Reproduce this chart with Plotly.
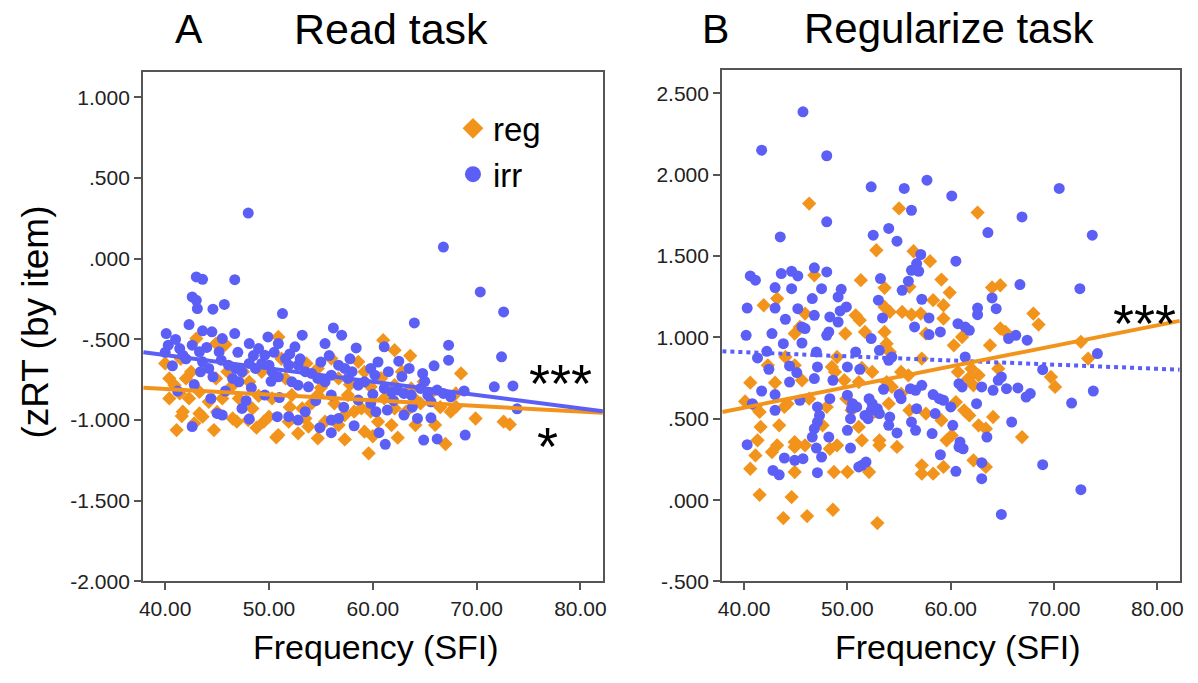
import plotly.graph_objects as go

# ---------------- data ----------------
# Panel A (Read task)
a_irr_x = [48.0, 66.8, 70.35, 72.6, 64.0, 43.0, 43.6, 46.7, 42.6, 43.0, 43.1, 44.6, 45.7, 51.3, 42.3, 40.1,
           43.6, 44.5, 46.7, 45.5, 48.1, 49.9, 50.9, 53.2, 56.2, 57.0, 55.4, 52.5, 58.4, 61.1, 67.3, 67.3,
           72.4, 62.5, 65.9, 64.8, 71.7, 73.5, 68.8, 66.8, 65.6, 73.9, 65.6, 64.3, 68.9, 66.2, 64.9, 61.2,
           60.6, 58.2, 56.0, 54.9, 48.1, 42.6, 45.0, 45.5, 47.4, 50.8, 51.9, 53.5, 60.3, 61.4, 63.0, 56.0,
           40.3, 40.7, 41.4, 41.7, 42.6, 43.3, 43.6, 44.2, 43.4, 44.6, 45.2, 45.4, 46.1, 46.8, 47.4, 46.5,
           47.1, 48.1, 48.7, 49.3, 50.0, 49.0, 49.6, 50.3, 50.9, 51.6, 51.9, 52.8, 53.5, 54.1, 52.2, 52.8,
           53.8, 54.7, 55.4, 56.0, 56.7, 57.3, 57.6, 58.6, 59.2, 59.8, 60.2, 61.1, 61.8, 62.4, 63.0, 63.7,
           64.6, 65.3, 66.2, 67.5, 44.4, 49.6, 56.0, 58.6, 59.8, 56.7, 52.8,
           40.0, 41.0, 42.0, 44.0, 47.0, 48.5, 50.5, 52.0, 53.0, 55.0, 55.8, 57.8, 58.0, 60.5, 61.5, 62.8,
           63.5, 65.0, 41.2, 42.8, 45.8, 48.3, 51.0, 54.5, 57.2, 60.0, 62.0, 63.8, 50.2, 47.8]
a_irr_y = [0.283, 0.072, -0.206, -0.33, -0.398, -0.113, -0.128, -0.13, -0.237, -0.258, -0.309, -0.313, -0.283, -0.34, -0.408, -0.464,
           -0.447, -0.453, -0.464, -0.495, -0.526, -0.485, -0.526, -0.474, -0.429, -0.474, -0.526, -0.546, -0.553, -0.546, -0.536, -0.629,
           -0.608, -0.635, -0.664, -0.711, -0.794, -0.788, -0.819, -0.835, -0.887, -0.93, -0.986, -0.99, -1.093, -1.117, -1.124, -1.15,
           -1.078, -1.035, -1.078, -1.047, -0.994, -1.04, -0.959, -0.969, -0.928, -0.979, -0.979, -0.948, -0.948, -0.938, -0.969, -1.0,
           -0.536, -0.664, -0.557, -0.598, -0.536, -0.577, -0.639, -0.68, -0.701, -0.732, -0.577, -0.629, -0.66, -0.68, -0.70, -0.742,
           -0.763, -0.649, -0.68, -0.649, -0.66, -0.557, -0.598, -0.70, -0.732, -0.619, -0.66, -0.66, -0.70, -0.711, -0.763, -0.784,
           -0.794, -0.742, -0.763, -0.722, -0.66, -0.68, -0.742, -0.784, -0.763, -0.68, -0.722, -0.804, -0.825, -0.814, -0.835, -0.845,
           -0.804, -0.845, -0.814, -0.856, -0.866, -0.845, -0.845, -0.876, -0.897, -0.99, -1.0,
           -0.58, -0.50, -0.62, -0.55, -0.58, -0.60, -0.58, -0.59, -0.62, -0.64, -0.60, -0.62, -0.70, -0.64, -0.70, -0.73,
           -0.68, -0.76, -0.82, -0.78, -0.82, -0.80, -0.86, -0.88, -0.92, -0.84, -0.88, -0.92, -0.76, -0.88]

a_reg_x = [61.0, 62.1, 63.6, 68.5, 58.6, 69.9, 72.6, 73.2, 67.0, 59.6, 41.1, 41.6, 44.7, 48.8, 50.7, 52.8,
           54.7, 57.3, 62.4, 64.1, 68.0, 67.5, 40.0, 40.4, 40.9, 41.4, 42.5, 42.0, 43.0, 44.9, 45.8, 43.3,
           43.6, 46.5, 46.9, 49.5, 50.0, 50.9, 51.9, 53.5, 54.1, 55.4, 56.7, 58.2, 59.2, 60.5, 61.8, 63.2,
           64.6, 68.0, 50.9, 53.6, 54.7, 56.0, 59.2, 59.8, 56.7, 51.6, 49.3, 48.1, 46.5, 44.9, 43.3, 42.3,
           44.2, 45.5, 47.1, 48.4, 50.3, 52.2, 53.2, 54.7, 56.3, 57.6, 58.9, 61.1, 62.1, 63.7, 64.9, 64.0,
           62.1, 59.8, 57.3, 41.7, 40.4,
           45.0, 47.5, 52.0, 55.0, 57.8, 60.8, 62.8, 65.5, 66.5, 42.8, 48.0, 53.8, 60.0, 66.0, 51.2, 49.0,
           46.0, 41.5]
a_reg_y = [-0.505, -0.567, -0.602, -0.711, -0.639, -0.99, -1.01, -1.027, -1.148, -1.206, -1.062, -0.975, -1.062, -1.047, -1.107, -1.082,
           -1.113, -1.12, -1.109, -1.031, -0.918, -0.948, -0.649, -0.742, -0.784, -0.835, -0.701, -0.742, -0.495, -0.526, -0.532, -0.959,
           -0.979, -0.99, -1.01, -1.01, -0.979, -1.093, -1.01, -0.99, -0.897, -1.01, -1.031, -0.948, -1.072, -1.01, -1.031, -0.948,
           -0.897, -0.835, -0.485, -0.649, -0.68, -0.619, -0.701, -0.794, -0.742, -0.742, -0.701, -0.763, -0.784, -0.742, -0.825, -0.866,
           -0.887, -0.866, -0.866, -0.928, -0.866, -0.845, -0.928, -0.845, -0.897, -0.845, -0.928, -0.866, -0.784, -0.804, -0.763, -0.866,
           -0.928, -0.948, -0.969, -0.948, -0.866,
           -0.95, -0.70, -0.92, -0.80, -0.78, -0.74, -0.70, -0.84, -0.92, -1.02, -1.00, -1.04, -1.10, -1.03, -0.62, -0.85,
           -0.70, -0.62]

# Panel B (Regularize task)
b_irr_x = [45.7, 41.7, 48.0, 52.3, 55.5, 57.7, 60.1, 70.5, 56.2, 66.9, 48.0, 43.5, 52.5, 54.0, 54.8, 63.6,
           73.7, 60.5, 57.1, 56.7, 56.2, 56.9, 46.8, 48.0, 40.6, 41.1, 43.6, 44.6, 45.2, 53.2, 55.9, 55.3,
           66.7, 72.5, 43.0, 44.6, 47.5, 46.6, 49.4, 49.1, 49.9, 49.3, 53.0, 57.2, 64.0, 64.4, 62.6, 62.6,
           40.3, 43.0, 45.2, 46.8, 48.3, 44.0, 53.4, 57.9, 60.7, 61.4, 61.8, 49.1, 56.5, 45.6, 45.9, 48.2,
           48.0, 42.7, 59.0, 57.9, 40.2, 52.3, 65.6, 66.3, 67.4, 43.8, 45.6, 74.2, 47.0, 50.8, 53.1, 54.3,
           54.0, 61.4, 41.3, 42.2, 42.4, 44.4, 45.1, 51.2, 50.0, 47.1, 68.9, 46.8, 48.6, 44.4, 56.6, 57.2,
           56.1, 60.8, 61.1, 63.0, 64.1, 64.6, 64.9, 65.4, 66.5, 41.7, 43.0, 53.5, 55.0, 52.1, 52.4, 52.3,
           50.0, 50.5, 50.4, 58.3, 58.9, 59.3, 60.0, 67.7, 67.3, 62.5, 55.2, 48.3, 45.4, 40.8, 43.0, 47.1,
           47.3, 47.1, 50.9, 51.7, 52.0, 52.9, 53.1, 54.1, 56.7, 58.5, 50.3, 46.8, 46.6, 48.2, 50.0, 54.0,
           54.8, 56.2, 56.6, 58.2, 60.2, 65.9, 63.5, 60.9, 61.2, 60.8, 40.3, 47.0, 47.5, 50.3, 59.0, 43.9,
           44.9, 45.7, 51.4, 51.8, 51.1, 63.0, 68.9, 42.8, 43.4, 47.1, 60.5, 63.0, 72.6, 64.9, 71.7, 73.8]
b_irr_y = [2.387, 2.151, 2.117, 1.926, 1.916, 1.967, 1.870, 1.916, 1.782, 1.741, 1.711, 1.618, 1.629, 1.670, 1.592, 1.645,
           1.629, 1.469, 1.510, 1.454, 1.413, 1.407, 1.428, 1.403, 1.378, 1.352, 1.393, 1.407, 1.378, 1.362, 1.346, 1.290,
           1.325, 1.300, 1.307, 1.300, 1.300, 1.239, 1.296, 1.249, 1.188, 1.163, 1.229, 1.235, 1.243, 1.177, 1.181, 1.140,
           1.181, 1.181, 1.177, 1.136, 1.126, 1.112, 1.120, 1.120, 1.085, 1.065, 1.044, 1.095, 1.065, 1.065, 1.055, 1.034,
           1.013, 1.024, 1.034, 1.018, 1.013, 0.993, 0.993, 1.013, 0.983, 0.962, 0.966, 0.901, 0.911, 0.911, 0.921, 0.880,
           0.860, 0.880, 0.874, 0.915, 0.804, 0.825, 0.784, 0.804, 0.819, 0.819, 0.802, 0.747, 0.737, 0.726, 0.675, 0.706,
           0.685, 0.716, 0.696, 0.696, 0.675, 0.737, 0.757, 0.685, 0.690, 0.671, 0.649, 0.681, 0.649, 0.624, 0.593, 0.552,
           0.645, 0.593, 0.563, 0.649, 0.624, 0.614, 0.573, 0.655, 0.634, 0.593, 0.624, 0.624, 0.614, 0.593, 0.552, 0.573,
           0.521, 0.480, 0.573, 0.521, 0.501, 0.562, 0.532, 0.511, 0.562, 0.532, 0.501, 0.439, 0.388, 0.388, 0.429, 0.460,
           0.413, 0.480, 0.429, 0.409, 0.460, 0.480, 0.388, 0.357, 0.316, 0.327, 0.341, 0.320, 0.265, 0.320, 0.279, 0.259,
           0.245, 0.255, 0.214, 0.234, 0.204, 0.230, 0.218, 0.183, 0.156, 0.169, 0.177, 0.132, 0.064, -0.088, 0.597, 0.671]

b_reg_x = [46.3, 55.0, 62.6, 52.8, 56.4, 58.0, 51.3, 46.8, 53.6, 59.1, 64.0, 64.8, 56.0, 59.9, 43.2, 41.9,
           45.9, 50.8, 51.2, 53.6, 54.1, 55.3, 56.2, 57.1, 58.3, 59.3, 59.3, 68.0, 68.5, 44.9, 45.4, 49.8,
           51.7, 53.6, 57.6, 61.1, 60.3, 63.8, 64.8, 65.3, 72.6, 73.3, 69.7, 70.1, 53.8, 54.1, 57.2, 49.0,
           44.0, 44.9, 42.3, 48.5, 48.8, 51.4, 52.4, 55.2, 55.9, 60.7, 62.0, 62.7, 64.6, 40.6, 43.0, 45.6,
           49.7, 51.1, 53.8, 54.3, 61.7, 62.2, 40.1, 41.1, 41.5, 41.6, 43.4, 43.9, 44.2, 46.3, 48.0, 49.9,
           50.4, 51.1, 52.6, 54.0, 55.2, 56.0, 57.6, 59.1, 60.5, 61.3, 61.8, 62.7, 63.4, 64.1, 66.9, 41.3,
           41.1, 43.2, 42.7, 44.9, 44.9, 45.9, 47.6, 48.3, 49.0, 51.4, 53.1, 53.1, 54.8, 59.6, 60.1, 50.0,
           48.7, 52.1, 44.9, 40.6, 57.2, 58.3, 59.3, 57.2, 62.2, 63.4, 41.5, 44.6, 43.8, 46.1, 48.6, 52.9]
b_reg_y = [1.823, 1.793, 1.768, 1.536, 1.530, 1.469, 1.352, 1.382, 1.305, 1.356, 1.307, 1.321, 1.311, 1.276, 1.239, 1.198,
           1.147, 1.136, 1.106, 1.188, 1.157, 1.157, 1.140, 1.147, 1.229, 1.198, 1.116, 1.147, 1.079, 1.024, 1.065, 1.024,
           1.034, 1.034, 1.024, 1.003, 0.952, 0.952, 1.055, 1.034, 0.973, 0.870, 0.757, 0.696, 0.962, 0.911, 0.870, 0.880,
           0.880, 0.829, 0.829, 0.819, 0.788, 0.813, 0.788, 0.788, 0.767, 0.788, 0.808, 0.767, 0.808, 0.722, 0.722, 0.737,
           0.737, 0.726, 0.726, 0.696, 0.747, 0.706, 0.607, 0.573, 0.542, 0.450, 0.460, 0.573, 0.593, 0.624, 0.573, 0.624,
           0.552, 0.450, 0.542, 0.593, 0.655, 0.552, 0.532, 0.491, 0.603, 0.552, 0.521, 0.460, 0.439, 0.511, 0.388, 0.368,
           0.275, 0.337, 0.296, 0.357, 0.327, 0.337, 0.460, 0.316, 0.337, 0.368, 0.368, 0.337, 0.327, 0.368, 0.398, 0.173,
           0.173, 0.173, 0.173, 0.193, 0.214, 0.163, 0.204, 0.163, 0.245, 0.204, 0.033, 0.019, -0.110, -0.098, -0.059, -0.141]

# fit lines (end values)
fit_x = [37.9, 82.15]
a_irr_fit = [-0.58, -0.945]
a_reg_fit = [-0.80, -0.955]
b_reg_fit = [0.542, 1.102]
b_irr_fit = [0.915, 0.802]

a_yticks = [1.0, 0.5, 0.0, -0.5, -1.0, -1.5, -2.0]
a_yticklabels = ["1.000", ".500", ".000", "-.500", "-1.000", "-1.500", "-2.000"]
b_yticks = [2.5, 2.0, 1.5, 1.0, 0.5, 0.0, -0.5]
b_yticklabels = ["2.500", "2.000", "1.500", "1.000", ".500", ".000", "-.500"]
xticks = [40, 50, 60, 70, 80]
xticklabels = ["40.00", "50.00", "60.00", "70.00", "80.00"]

ORANGE = "#F2941C"
BLUE = "#5C5FF6"
FONT = "Liberation Sans, Arial, sans-serif"
W, H = 1198, 683

fig = go.Figure()

def px_x(p):
    return p / W

def px_y(p):
    return 1 - p / H

# markers
fig.add_trace(go.Scatter(x=a_reg_x, y=a_reg_y, mode="markers", xaxis="x", yaxis="y",
                         marker=dict(symbol="diamond", size=11, color=ORANGE), showlegend=False))
fig.add_trace(go.Scatter(x=a_irr_x, y=a_irr_y, mode="markers", xaxis="x", yaxis="y",
                         marker=dict(symbol="circle", size=11, color=BLUE), showlegend=False))
fig.add_trace(go.Scatter(x=b_reg_x, y=b_reg_y, mode="markers", xaxis="x2", yaxis="y2",
                         marker=dict(symbol="diamond", size=11, color=ORANGE), showlegend=False))
fig.add_trace(go.Scatter(x=b_irr_x, y=b_irr_y, mode="markers", xaxis="x2", yaxis="y2",
                         marker=dict(symbol="circle", size=11, color=BLUE), showlegend=False))
# fit lines
fig.add_trace(go.Scatter(x=fit_x, y=a_reg_fit, mode="lines", xaxis="x", yaxis="y",
                         line=dict(color=ORANGE, width=4), showlegend=False))
fig.add_trace(go.Scatter(x=fit_x, y=a_irr_fit, mode="lines", xaxis="x", yaxis="y",
                         line=dict(color=BLUE, width=4), showlegend=False))
fig.add_trace(go.Scatter(x=fit_x, y=b_irr_fit, mode="lines", xaxis="x2", yaxis="y2",
                         line=dict(color=BLUE, width=4, dash="dot"), showlegend=False))
fig.add_trace(go.Scatter(x=fit_x, y=b_reg_fit, mode="lines", xaxis="x2", yaxis="y2",
                         line=dict(color=ORANGE, width=4), showlegend=False))
# legend entries
fig.add_trace(go.Scatter(x=[None], y=[None], mode="markers", name="reg", xaxis="x", yaxis="y",
                         marker=dict(symbol="diamond", size=22, color=ORANGE)))
fig.add_trace(go.Scatter(x=[None], y=[None], mode="markers", name="irr", xaxis="x", yaxis="y",
                         marker=dict(symbol="circle", size=22, color=BLUE)))

axis_common = dict(showgrid=False, zeroline=False, showline=True, mirror=True,
                   linecolor="#555555", linewidth=2, ticks="outside", ticklen=7,
                   tickwidth=2, tickcolor="#555555",
                   tickfont=dict(family=FONT, size=21, color="#222222"))

fig.update_layout(
    width=W, height=H,
    margin=dict(l=0, r=0, t=0, b=0),
    paper_bgcolor="white", plot_bgcolor="white",
    xaxis=dict(domain=[px_x(140), px_x(603)], range=[37.87, 82.17], anchor="y",
               tickvals=xticks, ticktext=xticklabels, **axis_common),
    yaxis=dict(domain=[px_y(591), px_y(73)], range=[-2.0, 1.158], anchor="x",
               tickvals=a_yticks, ticktext=a_yticklabels, **axis_common),
    xaxis2=dict(domain=[px_x(723), px_x(1184)], range=[37.88, 82.2], anchor="y2",
                tickvals=xticks, ticktext=xticklabels, **axis_common),
    yaxis2=dict(domain=[px_y(591), px_y(71)], range=[-0.5, 2.645], anchor="x2",
                tickvals=b_yticks, ticktext=b_yticklabels, **axis_common),
    legend=dict(x=px_x(452), y=px_y(102), xanchor="left", yanchor="top",
                font=dict(family=FONT, size=33, color="black"),
                bgcolor="rgba(0,0,0,0)", itemsizing="trace", tracegroupgap=0),
    showlegend=True,
)

annots = [
    dict(text="A", x=px_x(186), y=px_y(29), size=41),
    dict(text="Read task", x=px_x(390), y=px_y(29), size=43),
    dict(text="B", x=px_x(716), y=px_y(29), size=41),
    dict(text="Regularize task", x=px_x(951), y=px_y(29), size=42),
    dict(text="Frequency (SFI)", x=px_x(375), y=px_y(658), size=34),
    dict(text="Frequency (SFI)", x=px_x(960), y=px_y(658), size=34),
]
for a in annots:
    fig.add_annotation(text=a["text"], x=a["x"], y=a["y"], xref="paper", yref="paper",
                       xanchor="center", yanchor="middle", showarrow=False,
                       font=dict(family=FONT, size=a["size"], color="black"))
fig.add_annotation(text="(zRT (by item)", x=px_x(32), y=px_y(327), xref="paper", yref="paper",
                   xanchor="center", yanchor="middle", showarrow=False, textangle=-90,
                   font=dict(family=FONT, size=37, color="black"))

stars = [
    dict(text="***", x=78.1, y=-0.77, xr="x", yr="y"),
    dict(text="*", x=76.8, y=-1.16, xr="x", yr="y"),
    dict(text="***", x=78.8, y=1.09, xr="x2", yr="y2"),
]
for s in stars:
    fig.add_annotation(text=s["text"], x=s["x"], y=s["y"], xref=s["xr"], yref=s["yr"],
                       xanchor="center", yanchor="middle", showarrow=False,
                       font=dict(family=FONT, size=54, color="black"))

fig.write_html("out.html")
